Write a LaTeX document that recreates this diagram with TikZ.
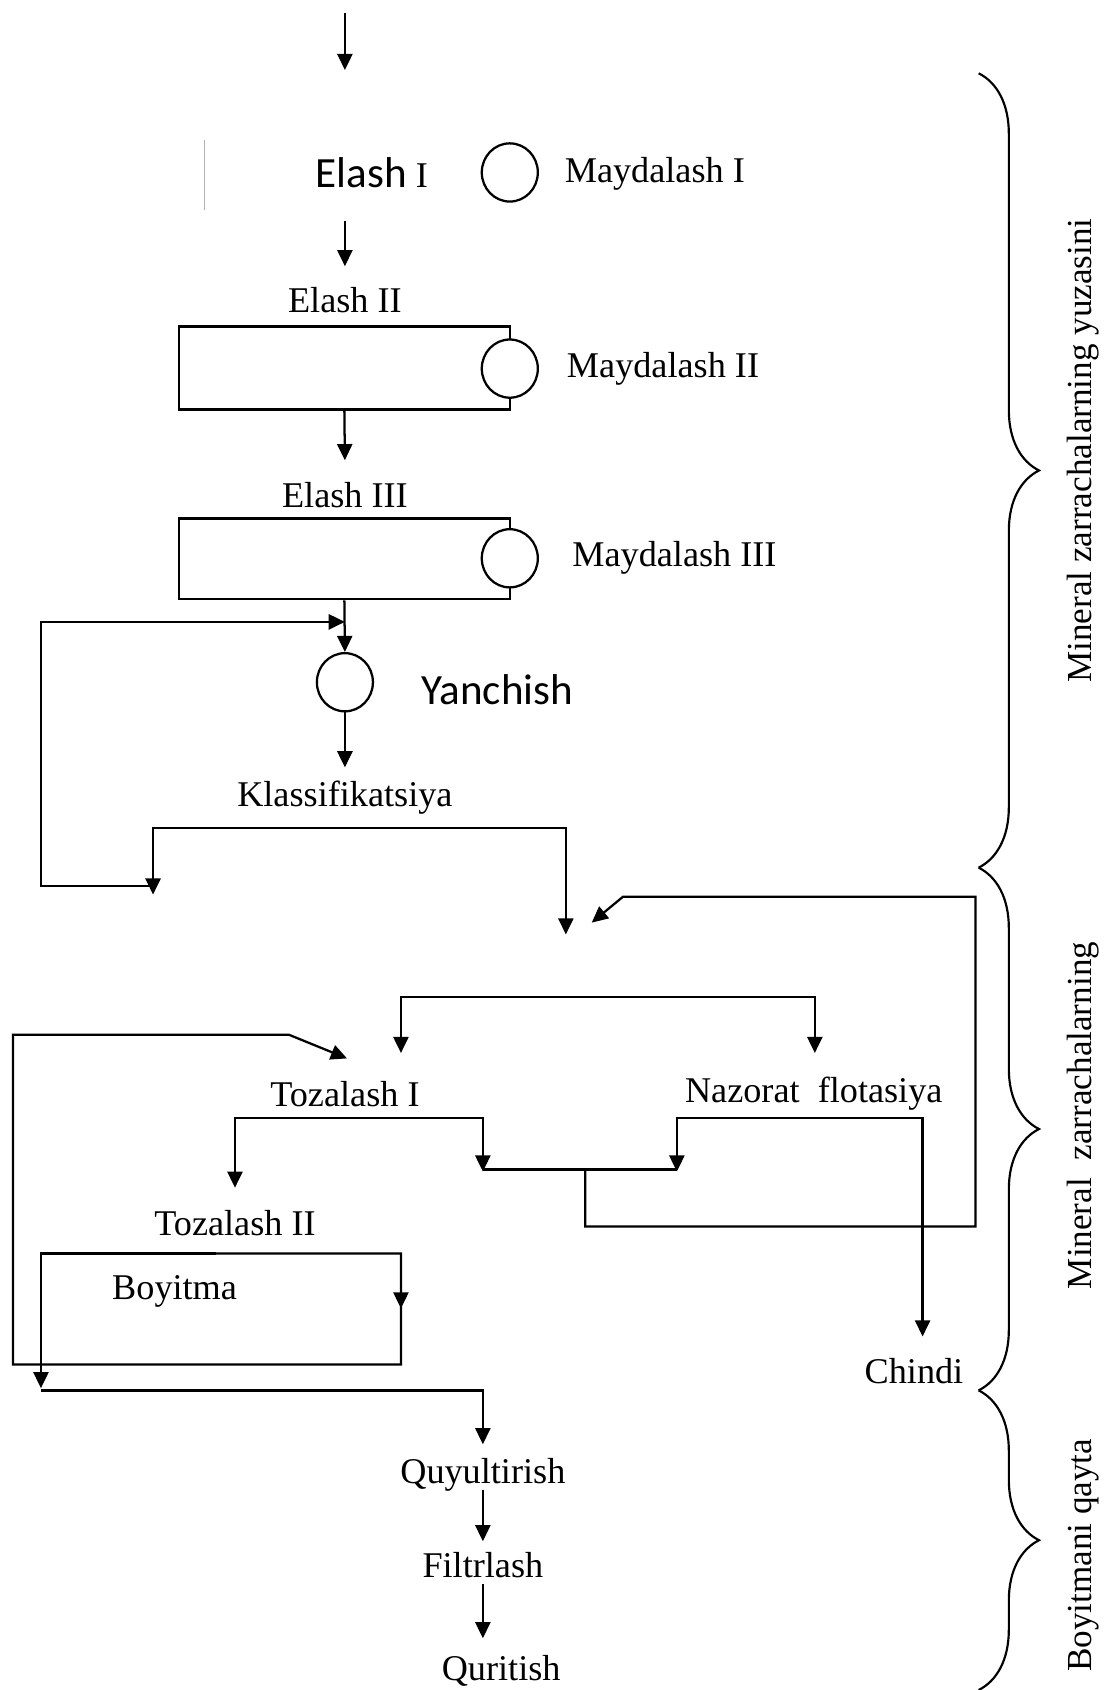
\documentclass[tikz,border=0pt]{standalone}
\usepackage{fontspec}
\setmainfont{Liberation Serif}
\newfontfamily\calfont{Carlito}
\usetikzlibrary{arrows.meta,shapes.geometric,decorations.pathreplacing}
\begin{document}
\begin{tikzpicture}[x=0.5pt,y=-0.5pt,line width=1.05pt,
  lbl/.style={inner sep=0pt,font=\fontsize{16.8}{20}\selectfont},
  sans/.style={inner sep=0pt,font=\calfont\fontsize{20}{24}\selectfont},
  rot/.style={inner sep=0pt,rotate=90,font=\fontsize{16.3}{20}\selectfont},
  mill/.style={draw,ellipse,minimum width=26pt,minimum height=27pt,inner sep=0pt,fill=white},
  tank/.style={draw,minimum width=153.5pt,inner sep=0pt},
  arr/.style={-{Triangle[length=7.5pt,width=7pt]}},
  brc/.style={decorate,decoration={brace,amplitude=28pt},line width=1pt}]
\useasboundingbox (0,0) rectangle (1027,1568);
% top section
\coordinate (in) at (320,12);
\coordinate (inE) at (320,65);
\draw[arr] (in) -- (inE);
\coordinate (g1) at (190,130);
\coordinate (g2) at (190,195);
\draw[gray!60,line width=0.6pt] (g1) -- (g2);
\node[lbl] (el1) at (345,160) {{\calfont\fontsize{20}{24}\selectfont Elash} I};
\node[mill] (c1) at (473,160) {};
\node[lbl,anchor=west] (md1) at (523,161) {Maydalash I};
\coordinate (a2s) at (320,205);
\coordinate (a2e) at (320,247);
\draw[arr] (a2s) -- (a2e);
\node[lbl] (el2) at (320,278) {Elash II};
\node[tank,minimum height=38.5pt] (b1) at (319.5,341.5) {};
\node[mill] (c2) at (473,342) {};
\node[lbl,anchor=west] (md2) at (525,342) {Maydalash II};
\coordinate (a3e) at (320,427);
\draw[arr] (b1.south) -- (a3e);
\node[lbl] (el3) at (320,459) {Elash III};
\node[tank,minimum height=37.5pt] (b2) at (319.5,518.5) {};
\node[mill] (c3) at (473,518) {};
\node[lbl,anchor=west] (md3) at (530,518) {Maydalash III};
\node[mill] (yan) at (320,633) {};
\node[sans,anchor=west] (yanl) at (390,640) {Yanchish};
\draw[arr] (b2.south) -- (yan.north);
\coordinate (a4e) at (320,712);
\draw[arr] (yan.south) -- (a4e);
\node[lbl] (kl) at (320,740) {Klassifikatsiya};
% classification split
\coordinate (ksp) at (330,768);
\coordinate (kcoarse) at (142,830);
\coordinate (kfine) at (525,867);
\draw[arr] (ksp) -| (kcoarse);
\draw[arr] (ksp) -| (kfine);
\coordinate (ret1) at (142,822);
\coordinate (ret2) at (38,822);
\coordinate (ret3) at (38,577);
\coordinate (retE) at (320,577);
\draw[arr] (ret1) -- (ret2) -- (ret3) -- (retE);
% middlings return
\coordinate (m1) at (543,1085);
\coordinate (m2) at (543,1138);
\coordinate (m3) at (905,1138);
\coordinate (m4) at (905,832);
\coordinate (m5) at (578,832);
\coordinate (mE) at (549,856);
\draw[arr] (m1) -- (m2) -- (m3) -- (m4) -- (m5) -- (mE);
% split to cleaner and scavenger
\coordinate (fsp) at (560,925);
\coordinate (ft1) at (372,977);
\coordinate (fnz) at (756,977);
\draw[arr] (fsp) -| (ft1);
\draw[arr] (fsp) -| (fnz);
\node[lbl] (t1) at (320,1015) {Tozalash I};
\node[lbl] (nf) at (755,1015) {Nazorat\ \ flotasiya};
% cleaner I outputs
\coordinate (t1sp) at (330,1037);
\coordinate (t1a) at (218,1102);
\coordinate (t1b) at (448,1087);
\draw[arr] (t1sp) -| (t1a);
\draw[arr] (t1sp) -| (t1b);
\coordinate (j1) at (448,1085);
\coordinate (j2) at (628,1085);
\draw (j1) -- (j2);
% scavenger outputs
\coordinate (nsp) at (700,1037);
\coordinate (na) at (628,1087);
\coordinate (nb) at (856,1240);
\draw[arr] (nsp) -| (na);
\draw[arr] (nsp) -| (nb);
\node[lbl] (ch) at (848,1272) {Chindi};
% cleaner II
\node[lbl] (t2) at (218,1135) {Tozalash II};
\node[lbl] (bo) at (162,1198) {Boyitma};
\coordinate (t2sp) at (200,1163);
\coordinate (t2c) at (38,1288);
\draw[arr] (t2sp) -| (t2c);
\coordinate (t2r) at (372,1266);
\coordinate (l1) at (12,1266);
\coordinate (l2) at (12,960);
\coordinate (l3) at (268,960);
\coordinate (lE) at (322,982);
\draw[arr] (t2sp) -| (t2r) -- (l1) -- (l2) -- (l3) -- (lE);
\coordinate (mid1) at (372,1190);
\coordinate (mid2) at (372,1214);
\draw[arr] (mid1) -- (mid2);
% concentrate treatment
\coordinate (cc1) at (38,1290);
\coordinate (cc2) at (448,1290);
\coordinate (cc3) at (448,1340);
\draw[arr] (cc1) -- (cc2) -- (cc3);
\node[lbl] (qu) at (448,1368) {Quyultirish};
\coordinate (q1) at (448,1382);
\coordinate (q2) at (448,1430);
\draw[arr] (q1) -- (q2);
\node[lbl] (fi) at (448,1452) {Filtrlash};
\coordinate (f1) at (448,1470);
\coordinate (f2) at (448,1520);
\draw[arr] (f1) -- (f2);
\node[lbl] (qr) at (465,1550) {Quritish};
% braces
\coordinate (br0) at (908,68);
\coordinate (br1) at (908,805);
\coordinate (br2) at (908,1290);
\coordinate (br3) at (908,1568);
\draw[brc] (br0) -- (br1);
\draw[brc] (br1) -- (br2);
\draw[brc] (br2) -- (br3);
\node[rot] (r1) at (1005,418) {Mineral zarrachalarning yuzasini};
\node[rot] (r2) at (1005,1035) {Mineral\ \ zarrachalarning};
\node[rot] (r3) at (1005,1443) {Boyitmani qayta};
\end{tikzpicture}
\end{document}
